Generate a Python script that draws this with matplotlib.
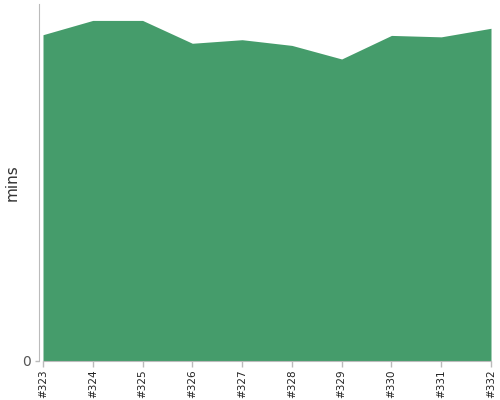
import matplotlib
matplotlib.use("Agg")
from matplotlib import pyplot as plt

builds = ["#323", "#324", "#325", "#326", "#327", "#328", "#329", "#330", "#331", "#332"]
mins = [45.7, 47.7, 47.7, 44.5, 45.0, 44.2, 42.3, 45.6, 45.4, 46.6]

fig = plt.figure(figsize=(5, 4), dpi=100)
ax = fig.add_axes([43 / 500, 1 - 361 / 400, 448 / 500, 357 / 400])

x = list(range(len(builds)))
ax.fill_between(x, 0, mins, color="#459c6b", linewidth=0)

ax.set_xlim(0, len(builds) - 1)
ax.set_ylim(0, 50)
ax.set_xticks(x)
ax.set_xticklabels(builds, rotation=90, fontsize=7.5, color="#222222")
ax.set_yticks([0])
ax.set_yticklabels(["0"], fontsize=8.5, color="#555555")
ax.set_ylabel("mins", fontsize=11, color="#333333")
ax.yaxis.set_label_coords(-0.053, 0.5)

for s in ["top", "right"]:
    ax.spines[s].set_visible(False)
ax.spines["left"].set_position(("outward", 3))
ax.spines["left"].set_color("#bbbbbb")
ax.spines["bottom"].set_color("#bbbbbb")
ax.tick_params(axis="both", colors="#bbbbbb", length=4, width=1)
ax.tick_params(axis="x", labelcolor="#222222", pad=2)
ax.tick_params(axis="y", labelcolor="#555555", length=3, pad=3)

fig.savefig("out.png", dpi=100)
